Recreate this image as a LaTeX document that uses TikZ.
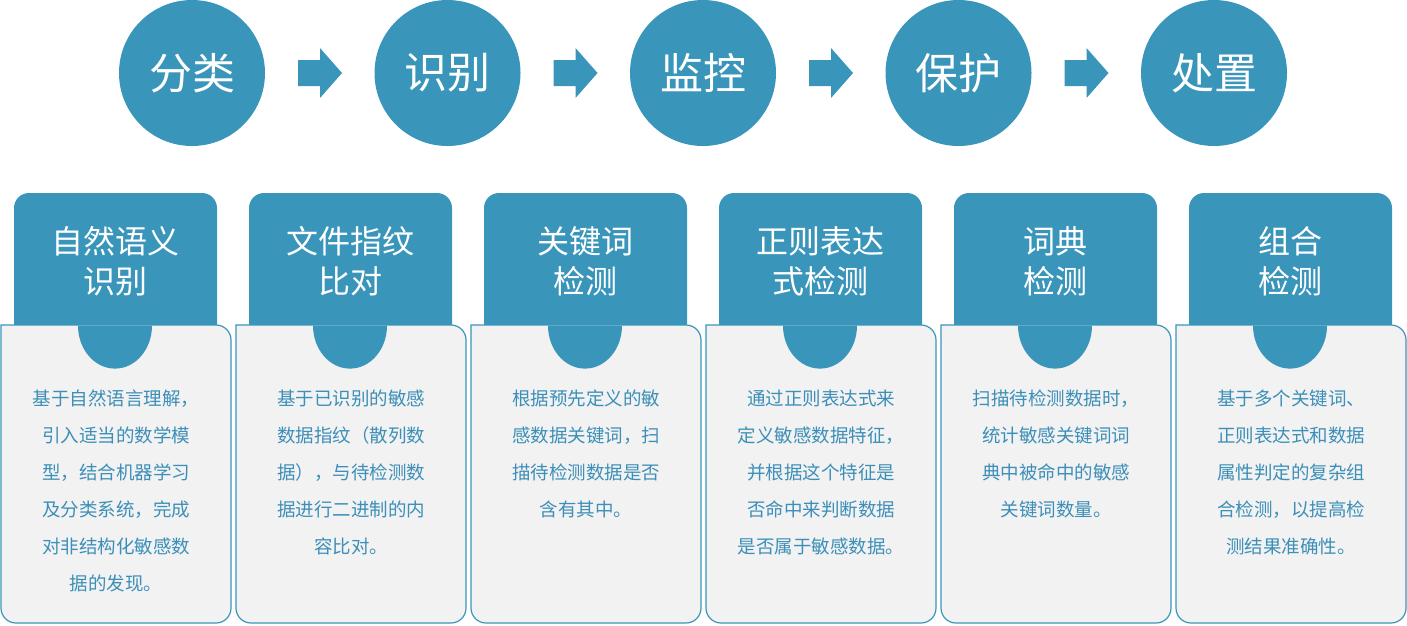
\documentclass[tikz,border=0pt]{standalone}
\usepackage{fontspec}
\setmainfont{Noto Sans CJK SC}
\definecolor{mb}{HTML}{3A95BB}
\definecolor{tb}{HTML}{3C8FB8}
\definecolor{gb}{HTML}{F2F2F2}
\begin{document}
\begin{tikzpicture}[x=1pt,y=-1pt,
  circ/.style={circle,fill=mb,minimum size=146pt,inner sep=0pt,text=white,font=\fontsize{43}{50}\selectfont},
  tab/.style={fill=mb},
  box/.style={fill=gb,draw=mb,line width=1.2pt},
  ttl/.style={text=white,align=center,font=\fontsize{32}{40}\selectfont},
  body/.style={text=tb,align=center,font=\fontsize{18.5}{37}\selectfont}]
\useasboundingbox (0,0) rectangle (1407,625);
\foreach \t [count=\i] in {分类,识别,监控,保护,处置}{
  \node[circ] (c\i) at ({192+255.5*(\i-1)},73) {\t};
}
\foreach \i in {1,...,4}{
  \pgfmathsetmacro\xa{298+255.5*(\i-1)}
  \fill[mb] (\xa,60) -- (\xa+22,60) -- (\xa+22,48) -- (\xa+44,73) -- (\xa+22,98) -- (\xa+22,86) -- (\xa,86) -- cycle;
}
\foreach \a/\b [count=\i] in {
 {自然语义\\识别}/{基于自然语言理解，\\引入适当的数学模\\型，结合机器学习\\及分类系统，完成\\对非结构化敏感数\\据的发现。},
 {文件指纹\\比对}/{基于已识别的敏感\\数据指纹（散列数\\据），与待检测数\\据进行二进制的内\\容比对。},
 {关键词\\检测}/{根据预先定义的敏\\感数据关键词，扫\\描待检测数据是否\\含有其中。},
 {正则表达\\式检测}/{通过正则表达式来\\定义敏感数据特征，\\并根据这个特征是\\否命中来判断数据\\是否属于敏感数据。},
 {词典\\检测}/{扫描待检测数据时，\\统计敏感关键词词\\典中被命中的敏感\\关键词数量。},
 {组合\\检测}/{基于多个关键词、\\正则表达式和数据\\属性判定的复杂组\\合检测，以提高检\\测结果准确性。}}{
  \pgfmathsetmacro\x{1+235*(\i-1)}
  \fill[tab,rounded corners=15pt] (\x+13,345) -- (\x+13,193) -- (\x+216,193) -- (\x+216,345) -- cycle;
  \draw[box,rounded corners=15pt] (\x,325) -- (\x,623) -- (\x+230,623) -- (\x+230,325) [sharp corners]-- cycle;
  \fill[tab] (\x+77,325.6) arc[start angle=180,end angle=0,x radius=37,y radius=43] -- cycle;
  \node[ttl] (t\i) at (\x+114.5,261) {\a};
  \node[body,anchor=north] (b\i) at (\x+115,386) {\b};
}
\end{tikzpicture}
\end{document}
